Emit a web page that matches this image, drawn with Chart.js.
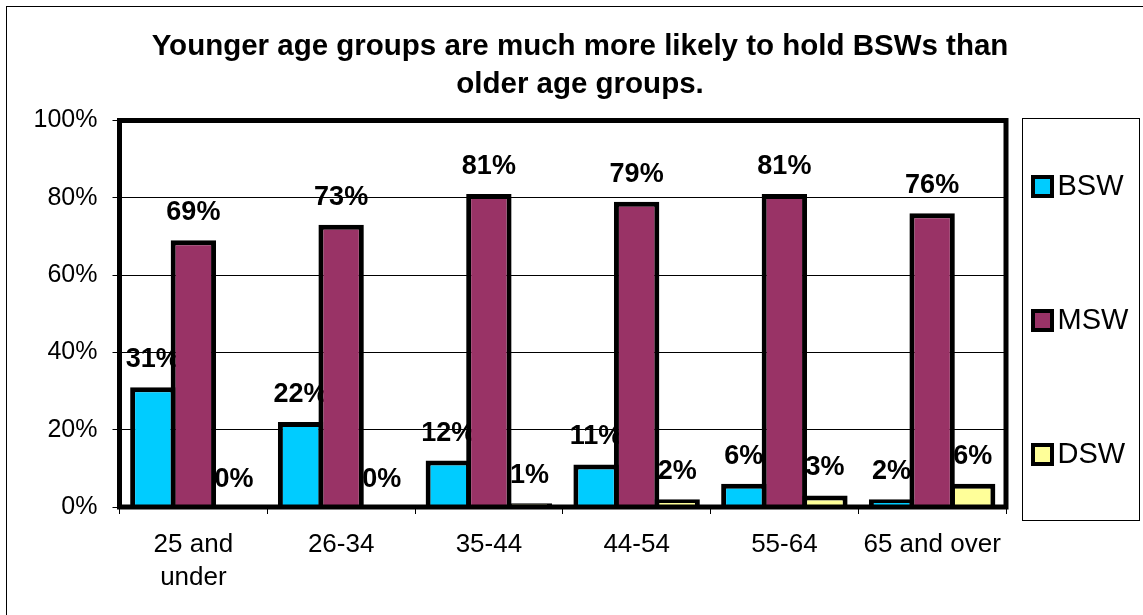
<!DOCTYPE html>
<html>
<head>
<meta charset="utf-8">
<script src="https://cdn.jsdelivr.net/npm/chart.js@4/dist/chart.umd.min.js"></script>
<style>
  html, body { margin: 0; padding: 0; background: #fff; overflow: hidden; }
</style>
</head>
<body>
<canvas id="chart" width="1143" height="615"></canvas>
<script>
const categories = [['25 and', 'under'], '26-34', '35-44', '44-54', '55-64', '65 and over'];
const bswValues = [31, 22, 12, 11, 6, 2];
const mswValues = [69, 73, 81, 79, 81, 76];
const dswValues = [0, 0, 1, 2, 3, 6];
const seriesNames = ['BSW', 'MSW', 'DSW'];
const seriesColors = ['#00CCFF', '#993366', '#FFFF99'];
const yTicks = [0, 20, 40, 60, 80, 100];

const FONT = 'Arial, "Liberation Sans", sans-serif';

// value labels sit behind the bars, like the original
const valueLabels = {
  id: 'valueLabels',
  beforeDatasetsDraw(chart) {
    const ctx = chart.ctx;
    ctx.save();
    ctx.font = 'bold 27px ' + FONT;
    ctx.fillStyle = '#000';
    ctx.textAlign = 'center';
    ctx.textBaseline = 'alphabetic';
    chart.data.datasets.forEach((ds, i) => {
      chart.getDatasetMeta(i).data.forEach((bar, j) => {
        ctx.fillText(ds.data[j] + '%', bar.x, bar.y - 20);
      });
    });
    ctx.restore();
  },
};

// thick plot border, outer frame and the boxed legend on the right
const frames = {
  id: 'frames',
  afterDatasetsDraw(chart) {
    const {ctx, chartArea: a} = chart;
    ctx.save();
    ctx.strokeStyle = '#000';
    ctx.lineWidth = 5;
    ctx.strokeRect(a.left, a.top, a.right - a.left, a.bottom - a.top);
    ctx.restore();
  },
  afterDraw(chart) {
    const {ctx, chartArea: a} = chart;
    ctx.save();
    ctx.strokeStyle = '#000';
    ctx.lineWidth = 1;
    ctx.strokeRect(6.5, 6.5, 1400, 900);

    const lx = Math.round(a.right) + 16.5;
    const ly = Math.round(a.top) - 2.5;
    const lw = 117;
    const lh = 402;
    ctx.strokeRect(lx, ly, lw, lh);
    ctx.font = '29px ' + FONT;
    ctx.textAlign = 'left';
    ctx.textBaseline = 'middle';
    chart.data.datasets.forEach((ds, i) => {
      const cy = Math.round(ly + lh * (i + 0.5) / 3);
      ctx.fillStyle = '#000';
      ctx.fillRect(lx + 8.5, cy - 11, 23, 23);
      ctx.fillStyle = ds.backgroundColor;
      ctx.fillRect(lx + 12.5, cy - 7, 15, 15);
      ctx.fillStyle = '#000';
      ctx.fillText(ds.label, lx + 35, cy + 1);
    });
    ctx.restore();
  },
};

const seriesValues = [bswValues, mswValues, dswValues];

new Chart(document.getElementById('chart'), {
  type: 'bar',
  data: {
    labels: categories,
    datasets: seriesNames.map((name, i) => ({
      label: name,
      data: seriesValues[i],
      backgroundColor: seriesColors[i],
      borderColor: '#000',
      borderWidth: 5,
      categoryPercentage: 0.823,
      barPercentage: 1.12,
    })),
  },
  options: {
    responsive: false,
    animation: false,
    devicePixelRatio: 1,
    layout: {
      padding: {left: 17, right: 0, top: 0, bottom: 0},
    },
    plugins: {
      legend: {display: false},
      tooltip: {enabled: false},
      title: {
        display: true,
        text: ['Younger age groups are much more likely to hold BSWs than', 'older age groups.'],
        color: '#000',
        font: {family: FONT, size: 29.5, weight: 'bold', lineHeight: 38 / 29.5},
        padding: {top: 28, bottom: 16.5},
      },
    },
    scales: {
      x: {
        grid: {display: true, drawOnChartArea: false, drawTicks: true, tickLength: 7, color: '#000'},
        border: {display: false},
        ticks: {
          color: '#000',
          font: {family: FONT, size: 26, lineHeight: 33 / 26},
          padding: 14,
          maxRotation: 0,
          autoSkip: false,
        },
        afterFit(scale) { scale.height = 108; },
      },
      y: {
        min: 0,
        max: 100,
        grid: {color: '#000', lineWidth: 1, drawTicks: true, tickLength: 7},
        border: {display: false},
        ticks: {
          color: '#000',
          font: {family: FONT, size: 25},
          padding: 15,
          callback: (v) => v + '%',
        },
        afterBuildTicks(scale) { scale.ticks = yTicks.map((v) => ({value: v})); },
        afterFit(scale) { scale.width = 102.5; },
      },
      legendSpace: {
        type: 'linear',
        position: 'right',
        grid: {display: false},
        border: {display: false},
        ticks: {display: false},
        afterFit(scale) { scale.width = 137; },
      },
    },
  },
  plugins: [valueLabels, frames],
});
</script>
</body>
</html>
